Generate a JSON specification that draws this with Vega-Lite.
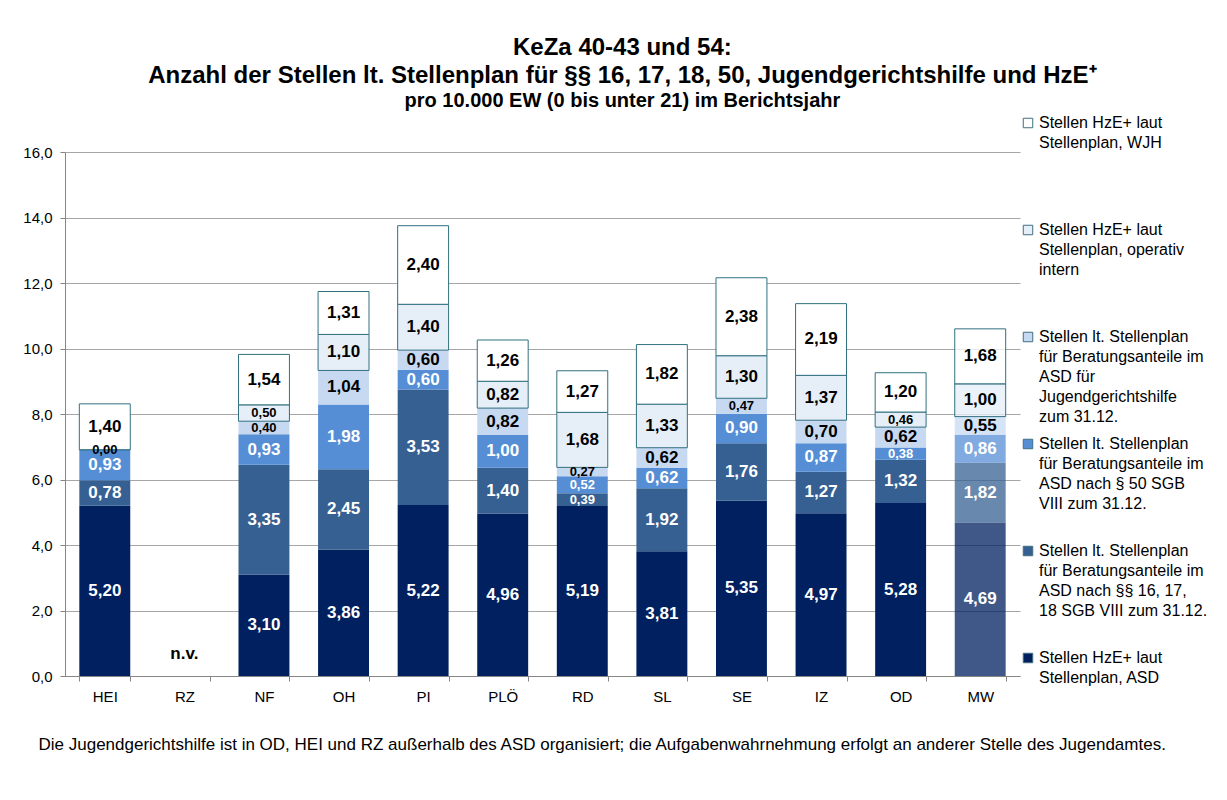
{
  "$schema": "https://vega.github.io/schema/vega-lite/v6.json",
  "width": 955,
  "height": 524,
  "autosize": {"type": "none"},
  "padding": {"left": 65, "top": 152, "right": 207, "bottom": 124},
  "background": "white",
  "config": {
    "locale": {"number": {"decimal": ",", "thousands": ".", "grouping": [3], "currency": ["", " €"]}},
    "font": "Liberation Sans",
    "view": {"stroke": null},
    "style": {"guide-label": {"lineHeight": 20}}
  },
  "title": {
    "text": ["KeZa 40-43 und 54:", "Anzahl der Stellen lt. Stellenplan für  §§ 16, 17, 18, 50, Jugendgerichtshilfe und HzE⁺"],
    "subtitle": "pro 10.000 EW (0 bis unter 21) im Berichtsjahr",
    "anchor": "middle",
    "frame": "bounds",
    "fontSize": 24,
    "fontWeight": "bold",
    "color": "black",
    "lineHeight": 28,
    "subtitleFontSize": 20,
    "subtitleFontWeight": "bold",
    "subtitleColor": "black",
    "subtitlePadding": 3,
    "offset": 4,
    "dx": 7
  },
  "encoding": {
    "x": {
      "field": "cat",
      "type": "nominal",
      "sort": null,
      "scale": {"domain": ["HEI", "RZ", "NF", "OH", "PI", "PLÖ", "RD", "SL", "SE", "IZ", "OD", "MW"], "paddingInner": 0.36, "paddingOuter": 0.18},
      "axis": {
        "title": "Die Jugendgerichtshilfe ist in OD, HEI und RZ außerhalb des ASD organisiert; die Aufgabenwahrnehmung erfolgt an anderer Stelle des Jugendamtes.",
        "labelAngle": 0,
        "labelFontSize": 15,
        "labelColor": "black",
        "labelPadding": 8,
        "domainColor": "#868686",
        "tickColor": "#868686",
        "tickBand": "extent",
        "tickSize": 5,
        "grid": false,
        "titleFontSize": 17,
        "titleFontWeight": "normal",
        "titleColor": "black",
        "titleAnchor": "start",
        "titleAlign": "left",
        "titleBaseline": "middle",
        "titleX": -27,
        "titleY": 68
      }
    }
  },
  "layer": [
    {
      "data": {
        "values": [
          {"cat": "HEI", "series": "ASD", "value": 5.20},
          {"cat": "HEI", "series": "S1618", "value": 0.78},
          {"cat": "HEI", "series": "S50", "value": 0.93},
          {"cat": "HEI", "series": "OP", "value": 0.00},
          {"cat": "HEI", "series": "WJH", "value": 1.40},
          {"cat": "NF", "series": "ASD", "value": 3.10},
          {"cat": "NF", "series": "S1618", "value": 3.35},
          {"cat": "NF", "series": "S50", "value": 0.93},
          {"cat": "NF", "series": "JGH", "value": 0.40},
          {"cat": "NF", "series": "OP", "value": 0.50},
          {"cat": "NF", "series": "WJH", "value": 1.54},
          {"cat": "OH", "series": "ASD", "value": 3.86},
          {"cat": "OH", "series": "S1618", "value": 2.45},
          {"cat": "OH", "series": "S50", "value": 1.98},
          {"cat": "OH", "series": "JGH", "value": 1.04},
          {"cat": "OH", "series": "OP", "value": 1.10},
          {"cat": "OH", "series": "WJH", "value": 1.31},
          {"cat": "PI", "series": "ASD", "value": 5.22},
          {"cat": "PI", "series": "S1618", "value": 3.53},
          {"cat": "PI", "series": "S50", "value": 0.60},
          {"cat": "PI", "series": "JGH", "value": 0.60},
          {"cat": "PI", "series": "OP", "value": 1.40},
          {"cat": "PI", "series": "WJH", "value": 2.40},
          {"cat": "PLÖ", "series": "ASD", "value": 4.96},
          {"cat": "PLÖ", "series": "S1618", "value": 1.40},
          {"cat": "PLÖ", "series": "S50", "value": 1.00},
          {"cat": "PLÖ", "series": "JGH", "value": 0.82},
          {"cat": "PLÖ", "series": "OP", "value": 0.82},
          {"cat": "PLÖ", "series": "WJH", "value": 1.26},
          {"cat": "RD", "series": "ASD", "value": 5.19},
          {"cat": "RD", "series": "S1618", "value": 0.39},
          {"cat": "RD", "series": "S50", "value": 0.52},
          {"cat": "RD", "series": "JGH", "value": 0.27},
          {"cat": "RD", "series": "OP", "value": 1.68},
          {"cat": "RD", "series": "WJH", "value": 1.27},
          {"cat": "SL", "series": "ASD", "value": 3.81},
          {"cat": "SL", "series": "S1618", "value": 1.92},
          {"cat": "SL", "series": "S50", "value": 0.62},
          {"cat": "SL", "series": "JGH", "value": 0.62},
          {"cat": "SL", "series": "OP", "value": 1.33},
          {"cat": "SL", "series": "WJH", "value": 1.82},
          {"cat": "SE", "series": "ASD", "value": 5.35},
          {"cat": "SE", "series": "S1618", "value": 1.76},
          {"cat": "SE", "series": "S50", "value": 0.90},
          {"cat": "SE", "series": "JGH", "value": 0.47},
          {"cat": "SE", "series": "OP", "value": 1.30},
          {"cat": "SE", "series": "WJH", "value": 2.38},
          {"cat": "IZ", "series": "ASD", "value": 4.97},
          {"cat": "IZ", "series": "S1618", "value": 1.27},
          {"cat": "IZ", "series": "S50", "value": 0.87},
          {"cat": "IZ", "series": "JGH", "value": 0.70},
          {"cat": "IZ", "series": "OP", "value": 1.37},
          {"cat": "IZ", "series": "WJH", "value": 2.19},
          {"cat": "OD", "series": "ASD", "value": 5.28},
          {"cat": "OD", "series": "S1618", "value": 1.32},
          {"cat": "OD", "series": "S50", "value": 0.38},
          {"cat": "OD", "series": "JGH", "value": 0.62},
          {"cat": "OD", "series": "OP", "value": 0.46},
          {"cat": "OD", "series": "WJH", "value": 1.20},
          {"cat": "MW", "series": "ASD", "value": 4.69},
          {"cat": "MW", "series": "S1618", "value": 1.82},
          {"cat": "MW", "series": "S50", "value": 0.86},
          {"cat": "MW", "series": "JGH", "value": 0.55},
          {"cat": "MW", "series": "OP", "value": 1.00},
          {"cat": "MW", "series": "WJH", "value": 1.68}
        ]
      },
      "transform": [
        {"calculate": "indexof(['ASD','S1618','S50','JGH','OP','WJH'], datum.series)", "as": "ord"},
        {"stack": "value", "groupby": ["cat"], "sort": [{"field": "ord", "order": "ascending"}], "as": ["v0", "v1"]},
        {"calculate": "(datum.v0 + datum.v1) / 2", "as": "mid"}
      ],
      "layer": [
        {
          "mark": {"type": "bar", "strokeWidth": 1},
          "encoding": {
            "y": {
              "field": "v0",
              "type": "quantitative",
              "scale": {"domain": [0, 16]},
              "axis": {
                "title": null,
                "values": [0, 2, 4, 6, 8, 10, 12, 14, 16],
                "format": ".1f",
                "labelFontSize": 15,
                "labelColor": "black",
                "labelPadding": 8,
                "gridColor": "#A6A6A6",
                "domainColor": "#868686",
                "tickColor": "#868686",
                "tickSize": 5
              }
            },
            "y2": {"field": "v1"},
            "color": {
              "field": "series",
              "type": "nominal",
              "scale": {
                "domain": ["WJH", "OP", "JGH", "S50", "S1618", "ASD"],
                "range": ["#FFFFFF", "#E6EEF8", "#C6D9F1", "#558ED5", "#376092", "#002060"]
              },
              "legend": {
                "orient": "none",
                "legendX": 955,
                "legendY": -37,
                "title": null,
                "symbolType": "square",
                "symbolSize": 90,
                "symbolStrokeColor": "#3F6F80",
                "symbolStrokeWidth": 1,
                "labelFontSize": 16,
                "labelColor": "black",
                "labelLimit": 240,
                "labelOffset": 3,
                "rowPadding": 11,
                "labelExpr": "datum.label == 'WJH' ? ['Stellen HzE+ laut', 'Stellenplan, WJH', ' ', ' ', ' '] : datum.label == 'OP' ? ['Stellen HzE+ laut', 'Stellenplan, operativ', 'intern', ' ', ' '] : datum.label == 'JGH' ? ['Stellen lt. Stellenplan', 'für Beratungsanteile im', 'ASD für', 'Jugendgerichtshilfe', 'zum 31.12.'] : datum.label == 'S50' ? ['Stellen lt. Stellenplan', 'für Beratungsanteile im', 'ASD nach § 50 SGB', 'VIII zum 31.12.', ' '] : datum.label == 'S1618' ? ['Stellen lt. Stellenplan', 'für Beratungsanteile im', 'ASD nach §§ 16, 17,', '18 SGB VIII zum 31.12.', ' '] : ['Stellen HzE+ laut', 'Stellenplan, ASD', ' ', ' ', ' ']"
              }
            },
            "stroke": {"condition": {"test": "datum.ord >= 4", "value": "#31707F"}, "value": "transparent"},
            "fillOpacity": {"condition": {"test": "datum.cat === 'MW'", "value": 0.75}, "value": 1}
          }
        },
        {
          "mark": {"type": "text", "fontWeight": "bold"},
          "encoding": {
            "y": {"field": "mid", "type": "quantitative"},
            "text": {"field": "value", "type": "quantitative", "format": ".2f"},
            "size": {"condition": {"test": "datum.value < 0.55", "value": 13}, "value": 17},
            "color": {"condition": {"test": "datum.ord <= 2", "value": "white"}, "value": "black"}
          }
        }
      ]
    },
    {
      "data": {"values": [{"cat": "RZ", "note": "n.v."}]},
      "mark": {"type": "text", "fontSize": 17, "fontWeight": "bold", "baseline": "bottom", "dy": -13},
      "encoding": {
        "y": {"datum": 0, "type": "quantitative"},
        "text": {"field": "note", "type": "nominal"}
      }
    }
  ]
}
